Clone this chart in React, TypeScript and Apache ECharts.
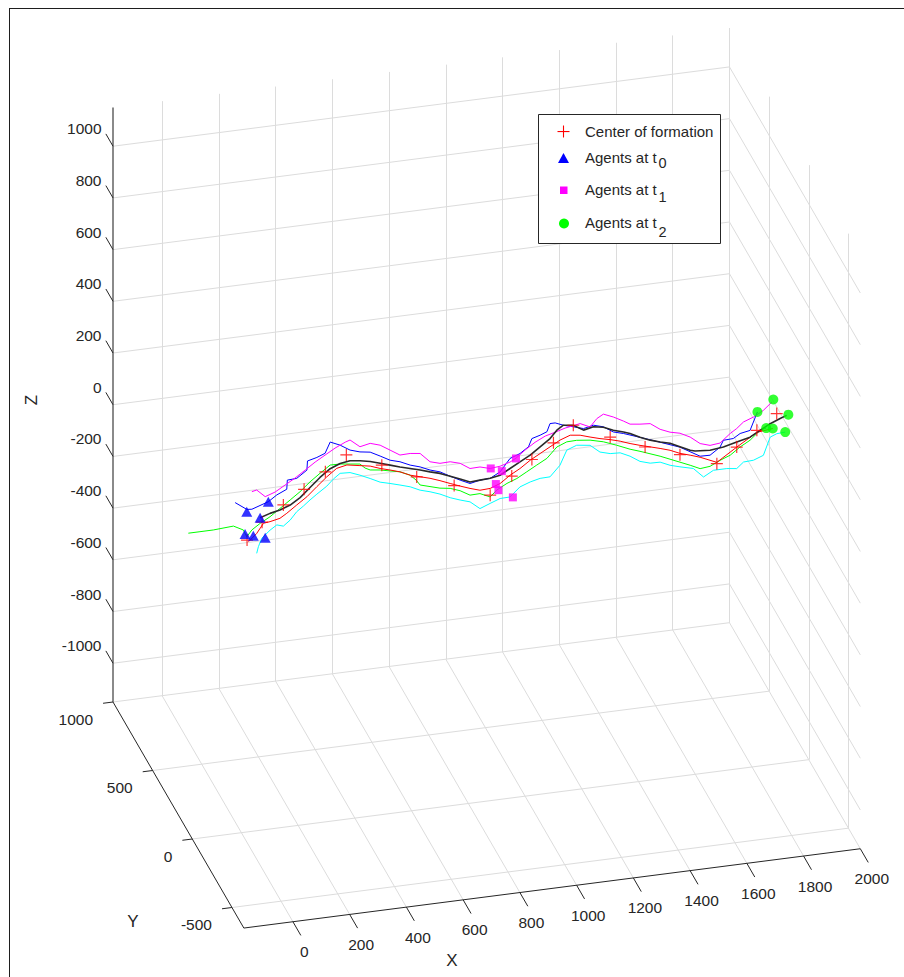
import React, { useEffect, useRef } from "react";
import * as echarts from "echarts";

// ---- axes: limits and ticks ----
const X_LIM = [-173, 2000];
const Y_LIM = [-650, 1000];
const Z_LIM = [-1150, 1150];
const X_TICKS = [0, 200, 400, 600, 800, 1000, 1200, 1400, 1600, 1800, 2000];
const Y_TICKS = [-500, 0, 500, 1000];
const Z_TICKS = [-1000, -800, -600, -400, -200, 0, 200, 400, 600, 800, 1000];

// ---- data (estimated depth of the trajectories) ----
const PATH_Y = 0;

const BLUE_X = [-22, 19, 37, 95, 125, 160, 162, 195, 231, 233, 266, 295, 313, 348, 383, 418, 454, 489, 524, 559, 595, 630, 665, 700, 736, 771, 806, 841, 877, 912, 947, 982, 1012, 1024, 1053, 1077, 1088, 1106, 1135, 1170, 1206, 1241, 1276, 1311, 1347, 1405, 1476, 1546, 1617, 1652, 1687, 1699, 1734, 1758, 1793, 1819];
const BLUE_Z = [130, 98, 96, 117, 139, 156, 191, 193, 220, 255, 264, 276, 317, 300, 276, 264, 258, 238, 217, 206, 188, 176, 159, 147, 125, 105, 87, 95, 97, 117, 164, 178, 200, 230, 239, 249, 279, 279, 266, 255, 243, 251, 240, 215, 204, 181, 152, 123, 78, 77, 103, 128, 130, 146, 153, 221];

const MAGENTA_X = [37, 54, 84, 119, 154, 189, 225, 260, 295, 330, 366, 383, 418, 454, 489, 524, 559, 595, 630, 665, 700, 736, 771, 806, 841, 877, 912, 947, 968, 1000, 1035, 1071, 1106, 1141, 1194, 1229, 1253, 1276, 1311, 1347, 1370, 1405, 1441, 1476, 1511, 1546, 1582, 1617, 1652, 1687, 1723, 1746, 1770, 1805, 1840, 1870];
const MAGENTA_Z = [164, 168, 138, 151, 173, 195, 221, 247, 269, 291, 309, 315, 284, 292, 280, 256, 232, 233, 228, 191, 180, 181, 170, 145, 146, 135, 139, 150, 162, 189, 214, 233, 243, 254, 264, 246, 275, 289, 273, 252, 237, 232, 229, 202, 186, 177, 157, 127, 115, 119, 151, 167, 189, 203, 224, 252];

const BLACK_X = [66, 101, 136, 172, 207, 242, 277, 313, 348, 383, 418, 454, 489, 524, 559, 595, 630, 665, 700, 736, 771, 806, 841, 877, 912, 947, 982, 1018, 1053, 1088, 1112, 1135, 1170, 1206, 1241, 1276, 1311, 1347, 1370, 1405, 1441, 1476, 1511, 1546, 1582, 1599, 1652, 1699, 1746, 1793, 1828, 1864, 1899, 1922];
const BLACK_Z = [59, 71, 79, 93, 117, 151, 185, 214, 229, 235, 230, 222, 210, 198, 186, 175, 164, 152, 141, 125, 109, 93, 95, 97, 104, 125, 146, 167, 194, 221, 250, 266, 261, 237, 245, 238, 222, 210, 201, 181, 165, 153, 143, 125, 106, 101, 96, 102, 115, 127, 148, 169, 184, 193];

const RED_X = [25, 54, 78, 101, 136, 160, 195, 231, 266, 301, 336, 372, 418, 454, 489, 524, 559, 595, 630, 665, 700, 736, 771, 806, 841, 877, 912, 947, 982, 1018, 1053, 1088, 1123, 1159, 1194, 1229, 1264, 1300, 1335, 1370, 1405, 1441, 1476, 1511, 1546, 1582, 1617, 1676, 1746, 1817, 1873];
const RED_Z = [-28, 0, 36, 39, 47, 63, 90, 117, 151, 184, 212, 220, 211, 204, 190, 179, 167, 149, 138, 127, 113, 97, 82, 68, 56, 58, 72, 99, 120, 147, 168, 189, 210, 224, 219, 207, 196, 187, 176, 162, 150, 139, 128, 116, 99, 87, 74, 46, 95, 142, 149];

const GREEN_X = [-187, -146, -99, -28, 7, 19, 37, 66, 101, 136, 172, 207, 242, 277, 313, 348, 383, 418, 436, 454, 489, 559, 595, 616, 630, 700, 736, 771, 806, 841, 877, 900, 936, 971, 1006, 1041, 1077, 1112, 1147, 1182, 1229, 1276, 1323, 1370, 1405, 1476, 1546, 1582, 1617, 1652, 1687, 1723, 1758, 1793, 1828, 1850];
const GREEN_Z = [35, 35, 35, 40, 20, -8, 16, 37, 58, 85, 113, 140, 173, 201, 228, 227, 222, 217, 199, 189, 184, 167, 149, 127, 106, 84, 78, 64, 42, 43, 25, 48, 69, 83, 104, 125, 146, 185, 200, 201, 195, 182, 162, 140, 127, 98, 65, 48, 30, 34, 52, 67, 94, 115, 148, 154];

const CYAN_X = [54, 60, 72, 101, 125, 148, 172, 195, 219, 242, 266, 301, 324, 348, 383, 418, 454, 489, 524, 559, 595, 630, 665, 700, 736, 771, 806, 841, 877, 912, 947, 982, 1018, 1053, 1088, 1123, 1147, 1182, 1229, 1264, 1300, 1335, 1370, 1405, 1441, 1476, 1511, 1546, 1593, 1629, 1664, 1711, 1746, 1770, 1805, 1840, 1864, 1887, 1917];
const CYAN_Z = [-77, -52, -21, 6, 23, 15, 35, 64, 83, 103, 122, 148, 172, 191, 189, 174, 156, 137, 127, 116, 104, 86, 75, 61, 42, 28, 16, -15, 0, 14, 15, 49, 63, 72, 73, 113, 168, 182, 175, 144, 133, 131, 113, 88, 76, 75, 58, 47, 34, -4, 17, 17, 12, 34, 36, 50, 117, 127, 129];

const CENTER_X = [20, 73, 148, 221, 296, 370, 495, 618, 750, 877, 953, 1024, 1100, 1170, 1300, 1423, 1546, 1676, 1746, 1817, 1887];
const CENTER_Z = [-21, 41, 97, 147, 204, 259, 202, 139, 87, 32, 95, 149, 203, 261, 197, 141, 94, 41, 95, 150, 205];

const T0_X = [19, 95, 66, 13, 42, 84];
const T0_Z = [89, 117, 59, 4, -7, -21];
const T1_X = [879, 918, 968, 897, 906, 957];
const T1_Z = [135, 119, 161, 72, 47, 12];
const T2_X = [1875, 1819, 1928, 1850, 1873, 1917];
const T2_Z = [261, 221, 195, 154, 149, 129];

// ---- view (orthographic projection of the 3-D box onto the page) ----
const VIEW = { ox: 113, oy: 702, exx: 0.2837, exy: 0.0365, eyx: 0.0793, eyy: 0.137, ez: 0.2585 };
const W = 904;
const H = 977;
const FONT = '"Liberation Sans", Arial, Helvetica, sans-serif';
const INK = "#262626";

function proj(x: number, y: number, z: number): [number, number] {
  const dx = x - X_LIM[0];
  const dy = Y_LIM[1] - y;
  const dz = z - Z_LIM[0];
  return [
    VIEW.ox + dx * VIEW.exx + dy * VIEW.eyx,
    VIEW.oy - dx * VIEW.exy + dy * VIEW.eyy - dz * VIEW.ez,
  ];
}

type P3 = [number, number, number];
const seg = (a: P3, b: P3) => ({ coords: [proj(a[0], a[1], a[2]), proj(b[0], b[1], b[2])] });
const path = (xs: number[], zs: number[]) => xs.map((x, i) => proj(x, PATH_Y, zs[i]));

function txt(x: number, y: number, s: string, align: string, size = 15.5, extra: any = {}) {
  return {
    type: "text",
    x,
    y,
    z: 100,
    silent: true,
    ...extra,
    style: {
      text: s,
      fill: INK,
      fontSize: size,
      fontFamily: FONT,
      align,
      verticalAlign: "middle",
      textAlign: align,
      textVerticalAlign: "middle",
    },
  };
}

function buildOption() {
  const [XMIN, XMAX] = X_LIM;
  const [YMIN, YMAX] = Y_LIM;
  const [ZMIN, ZMAX] = Z_LIM;

  const grid: any[] = [];
  X_TICKS.forEach((x) => {
    grid.push(seg([x, YMAX, ZMIN], [x, YMAX, ZMAX]));
    grid.push(seg([x, YMIN, ZMIN], [x, YMAX, ZMIN]));
  });
  Z_TICKS.forEach((z) => {
    grid.push(seg([XMIN, YMAX, z], [XMAX, YMAX, z]));
    grid.push(seg([XMAX, YMIN, z], [XMAX, YMAX, z]));
  });
  Y_TICKS.forEach((y) => {
    grid.push(seg([XMAX, y, ZMIN], [XMAX, y, ZMAX]));
    grid.push(seg([XMIN, y, ZMIN], [XMAX, y, ZMIN]));
  });

  const axes: any[] = [
    seg([XMIN, YMIN, ZMIN], [XMIN, YMAX, ZMIN]),
    seg([XMIN, YMIN, ZMIN], [XMAX, YMIN, ZMIN]),
  ];
  Z_TICKS.forEach((z) => axes.push(seg([XMIN, YMAX, z], [XMIN, YMAX + 90, z])));
  Y_TICKS.forEach((y) => axes.push(seg([XMIN, y, ZMIN], [XMIN - 35, y, ZMIN])));
  X_TICKS.forEach((x) => axes.push(seg([x, YMIN, ZMIN], [x, YMIN - 100, ZMIN])));

  const graphics: any[] = [];
  // figure frame
  graphics.push({ type: "rect", z: 100, silent: true, shape: { x: 9, y: 8, width: 1, height: H - 8 }, style: { fill: "#1e1e1e" } });
  graphics.push({ type: "rect", z: 100, silent: true, shape: { x: 9, y: 8, width: W - 9, height: 1 }, style: { fill: "#1e1e1e" } });

  Z_TICKS.forEach((z) => {
    const [px, py] = proj(XMIN, YMAX, z);
    graphics.push(txt(px - 11.5, py - 17.5, String(z), "right"));
  });
  Y_TICKS.forEach((y) => {
    const [px, py] = proj(XMIN, y, ZMIN);
    graphics.push(txt(px - 20, py + 17, String(y), "right"));
  });
  X_TICKS.forEach((x) => {
    const [px, py] = proj(x, YMIN, ZMIN);
    graphics.push(txt(px + 11.5, py + 30, String(x), "center"));
  });
  graphics.push(txt(452, 960, "X", "center", 17));
  graphics.push(txt(133, 921, "Y", "center", 17));
  graphics.push(txt(31.5, 400, "Z", "center", 17, { rotation: Math.PI / 2 }));

  // legend box
  const lg = { x: 538.5, y: 114.5, w: 182, h: 129 };
  graphics.push({ type: "rect", z: 99, silent: true, shape: { x: lg.x, y: lg.y, width: lg.w, height: lg.h }, style: { fill: "#ffffff", stroke: INK, lineWidth: 1 } });
  const mx = 563.5;
  graphics.push({ type: "rect", z: 100, silent: true, shape: { x: mx - 6, y: 131, width: 12, height: 1.1 }, style: { fill: "#ff0000" } });
  graphics.push({ type: "rect", z: 100, silent: true, shape: { x: mx - 0.55, y: 125.5, width: 1.1, height: 12 }, style: { fill: "#ff0000" } });
  graphics.push({ type: "polygon", z: 100, silent: true, shape: { points: [[mx, 153], [mx - 5.5, 163], [mx + 5.5, 163]] }, style: { fill: "#0000ff" } });
  graphics.push({ type: "rect", z: 100, silent: true, shape: { x: mx - 3.5, y: 186.5, width: 7.5, height: 7.5 }, style: { fill: "#ff00ff" } });
  graphics.push({ type: "circle", z: 100, silent: true, shape: { cx: mx + 0.5, cy: 223.5, r: 5 }, style: { fill: "#00ff00" } });
  graphics.push(txt(585, 131, "Center of formation", "left", 15));
  graphics.push(txt(585, 157.5, "Agents at t", "left", 15));
  graphics.push(txt(658.5, 163, "0", "left", 14.5));
  graphics.push(txt(585, 189, "Agents at t", "left", 15));
  graphics.push(txt(658.5, 197, "1", "left", 14.5));
  graphics.push(txt(585, 222.5, "Agents at t", "left", 15));
  graphics.push(txt(658.5, 232, "2", "left", 14.5));

  const lineSeries = (name: string, xs: number[], zs: number[], color: string, width = 1) => ({
    type: "line",
    name,
    data: path(xs, zs),
    showSymbol: false,
    symbol: "none",
    silent: true,
    z: 3,
    lineStyle: { color, width },
  });

  const plus = "path://M4.5,0H5.5V4.5H10V5.5H5.5V10H4.5V5.5H0V4.5H4.5Z";

  return {
    animation: false,
    backgroundColor: "#ffffff",
    grid: { left: 0, right: 0, top: 0, bottom: 0 },
    xAxis: { type: "value", min: 0, max: W, show: false },
    yAxis: { type: "value", min: 0, max: H, inverse: true, show: false },
    graphic: { elements: graphics },
    series: [
      { type: "lines", name: "grid", coordinateSystem: "cartesian2d", polyline: false, silent: true, z: 1, data: grid, lineStyle: { color: "#dcdcdc", width: 1, opacity: 1 } },
      { type: "lines", name: "zaxis", coordinateSystem: "cartesian2d", polyline: false, silent: true, z: 2, data: [seg([XMIN, YMAX, ZMIN], [XMIN, YMAX, ZMAX])], lineStyle: { color: "#8a8a8a", width: 2, opacity: 1 } },
      { type: "lines", name: "axes", coordinateSystem: "cartesian2d", polyline: false, silent: true, z: 2, data: axes, lineStyle: { color: INK, width: 1, opacity: 1 } },
      lineSeries("agent1", BLUE_X, BLUE_Z, "#0000ff"),
      lineSeries("agent2", MAGENTA_X, MAGENTA_Z, "#ff00ff"),
      lineSeries("agent3", GREEN_X, GREEN_Z, "#00ff00"),
      lineSeries("agent4", CYAN_X, CYAN_Z, "#00ffff"),
      lineSeries("agent5", RED_X, RED_Z, "#ff0000"),
      lineSeries("agent6", BLACK_X, BLACK_Z, "#2a2a2a", 1.6),
      { type: "scatter", name: "Center of formation", data: path(CENTER_X, CENTER_Z), symbol: plus, symbolSize: 12, silent: true, z: 5, itemStyle: { color: "#ff0000" } },
      { type: "scatter", name: "Agents at t0", data: path(T0_X, T0_Z), symbol: "triangle", symbolSize: [11, 10], silent: true, z: 6, itemStyle: { color: "#0000ff" } },
      { type: "scatter", name: "Agents at t1", data: path(T1_X, T1_Z), symbol: "rect", symbolSize: 8, silent: true, z: 6, itemStyle: { color: "#ff00ff" } },
      { type: "scatter", name: "Agents at t2", data: path(T2_X, T2_Z), symbol: "circle", symbolSize: 10, silent: true, z: 6, itemStyle: { color: "#00ff00" } },
    ],
  };
}

export default function App() {
  const ref = useRef<HTMLDivElement>(null);
  useEffect(() => {
    if (!ref.current) return;
    const chart = echarts.init(ref.current, undefined, { renderer: "svg" });
    chart.setOption(buildOption() as any);
    return () => chart.dispose();
  }, []);
  return <div ref={ref} style={{ position: "fixed", left: 0, top: 0, width: W, height: H }} />;
}
